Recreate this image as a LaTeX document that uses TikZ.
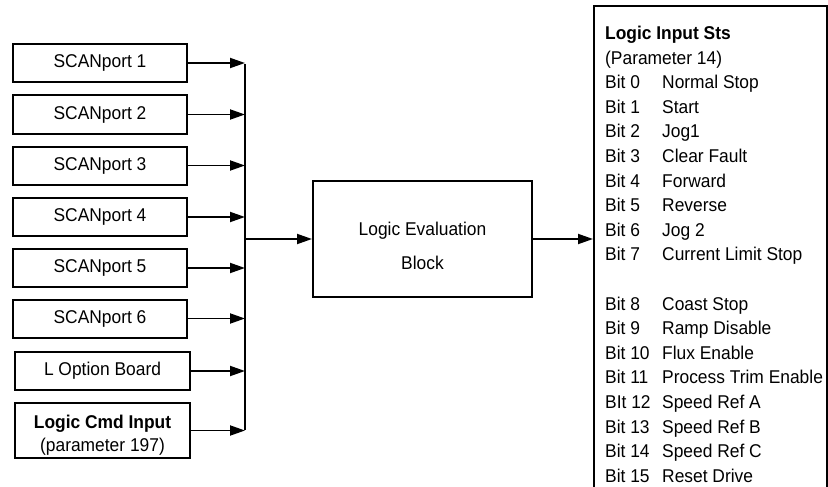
\documentclass[tikz,border=0pt]{standalone}
\usepackage{fontspec}
\setmainfont{Liberation Sans}[FakeStretch=0.94]
\usetikzlibrary{arrows.meta}
\begin{document}
\begin{tikzpicture}[x=1pt,y=-1pt,
  box/.style={draw, line width=2pt, inner sep=0pt, font=\fontsize{18.5}{21}\selectfont, align=center},
  inbox/.style={box, minimum width=174pt, minimum height=38pt},
  conn/.style={line width=1.9pt},
  arr/.style={conn, -{Triangle[length=15pt,width=10pt]}},
  lbl/.style={anchor=base west, inner sep=0pt, font=\fontsize{18.5}{21}\selectfont},
]
\useasboundingbox (0,0) rectangle (828,487);
\begin{scope}
\clip (0,0) rectangle (828,487);
\node[draw, line width=2pt, anchor=north west, minimum width=233pt, minimum height=520pt, inner sep=0pt] (sts) at (593,5) {};
\end{scope}

\node[inbox] (s1) at (100,63) {SCANport 1};
\node[inbox] (s2) at (100,114.5) {SCANport 2};
\node[inbox] (s3) at (100,165.5) {SCANport 3};
\node[inbox] (s4) at (100,217) {SCANport 4};
\node[inbox] (s5) at (100,268) {SCANport 5};
\node[inbox] (s6) at (100,318.5) {SCANport 6};
\node[inbox, minimum width=175pt] (lob) at (102.5,371) {L Option Board};
\node[box, minimum width=175pt, minimum height=55pt, font=\fontsize{18.5}{23}\selectfont, text height=45pt, text depth=4pt] (cmd) at (102.5,430.5) {\textbf{Logic Cmd Input}\\(parameter 197)};

\node[box, minimum width=219pt, minimum height=116pt, font=\fontsize{18.5}{34}\selectfont, text height=64pt, text depth=4pt] (le) at (422.5,239) {Logic Evaluation\\Block};

\coordinate (busx) at (245,0);
\foreach \n in {s1,s2,s3,s4,s5,s6,lob,cmd}{
  \draw[arr] (\n.east) -- (\n.east -| busx);
}
\draw[conn] ([yshift=-0.95pt]s1.east -| busx) -- ([yshift=0.95pt]cmd.east -| busx);
\draw[arr] (busx |- le.west) -- (le.west);
\draw[arr] (le.east) -- (le.east -| sts.west);

\node[lbl, font=\fontsize{18.5}{21}\selectfont\bfseries] (t0) at (605,39.5) {Logic Input Sts};
\node[lbl] (t1) at (605,64.1) {(Parameter 14)};
\foreach \i/\b/\d in {2/Bit 0/Normal Stop, 3/Bit 1/Start, 4/Bit 2/Jog1, 5/Bit 3/Clear Fault, 6/Bit 4/Forward, 7/Bit 5/Reverse, 8/Bit 6/Jog 2, 9/Bit 7/Current Limit Stop, 11/Bit 8/Coast Stop, 12/Bit 9/Ramp Disable, 13/Bit 10/Flux Enable, 14/Bit 11/Process Trim Enable, 15/BIt 12/Speed Ref A, 16/Bit 13/Speed Ref B, 17/Bit 14/Speed Ref C, 18/Bit 15/Reset Drive}{
  \node[lbl] (b\i) at (605,39.5+\i*24.6) {\b};
  \node[lbl] (d\i) at (662,39.5+\i*24.6) {\d};
}
\end{tikzpicture}
\end{document}
